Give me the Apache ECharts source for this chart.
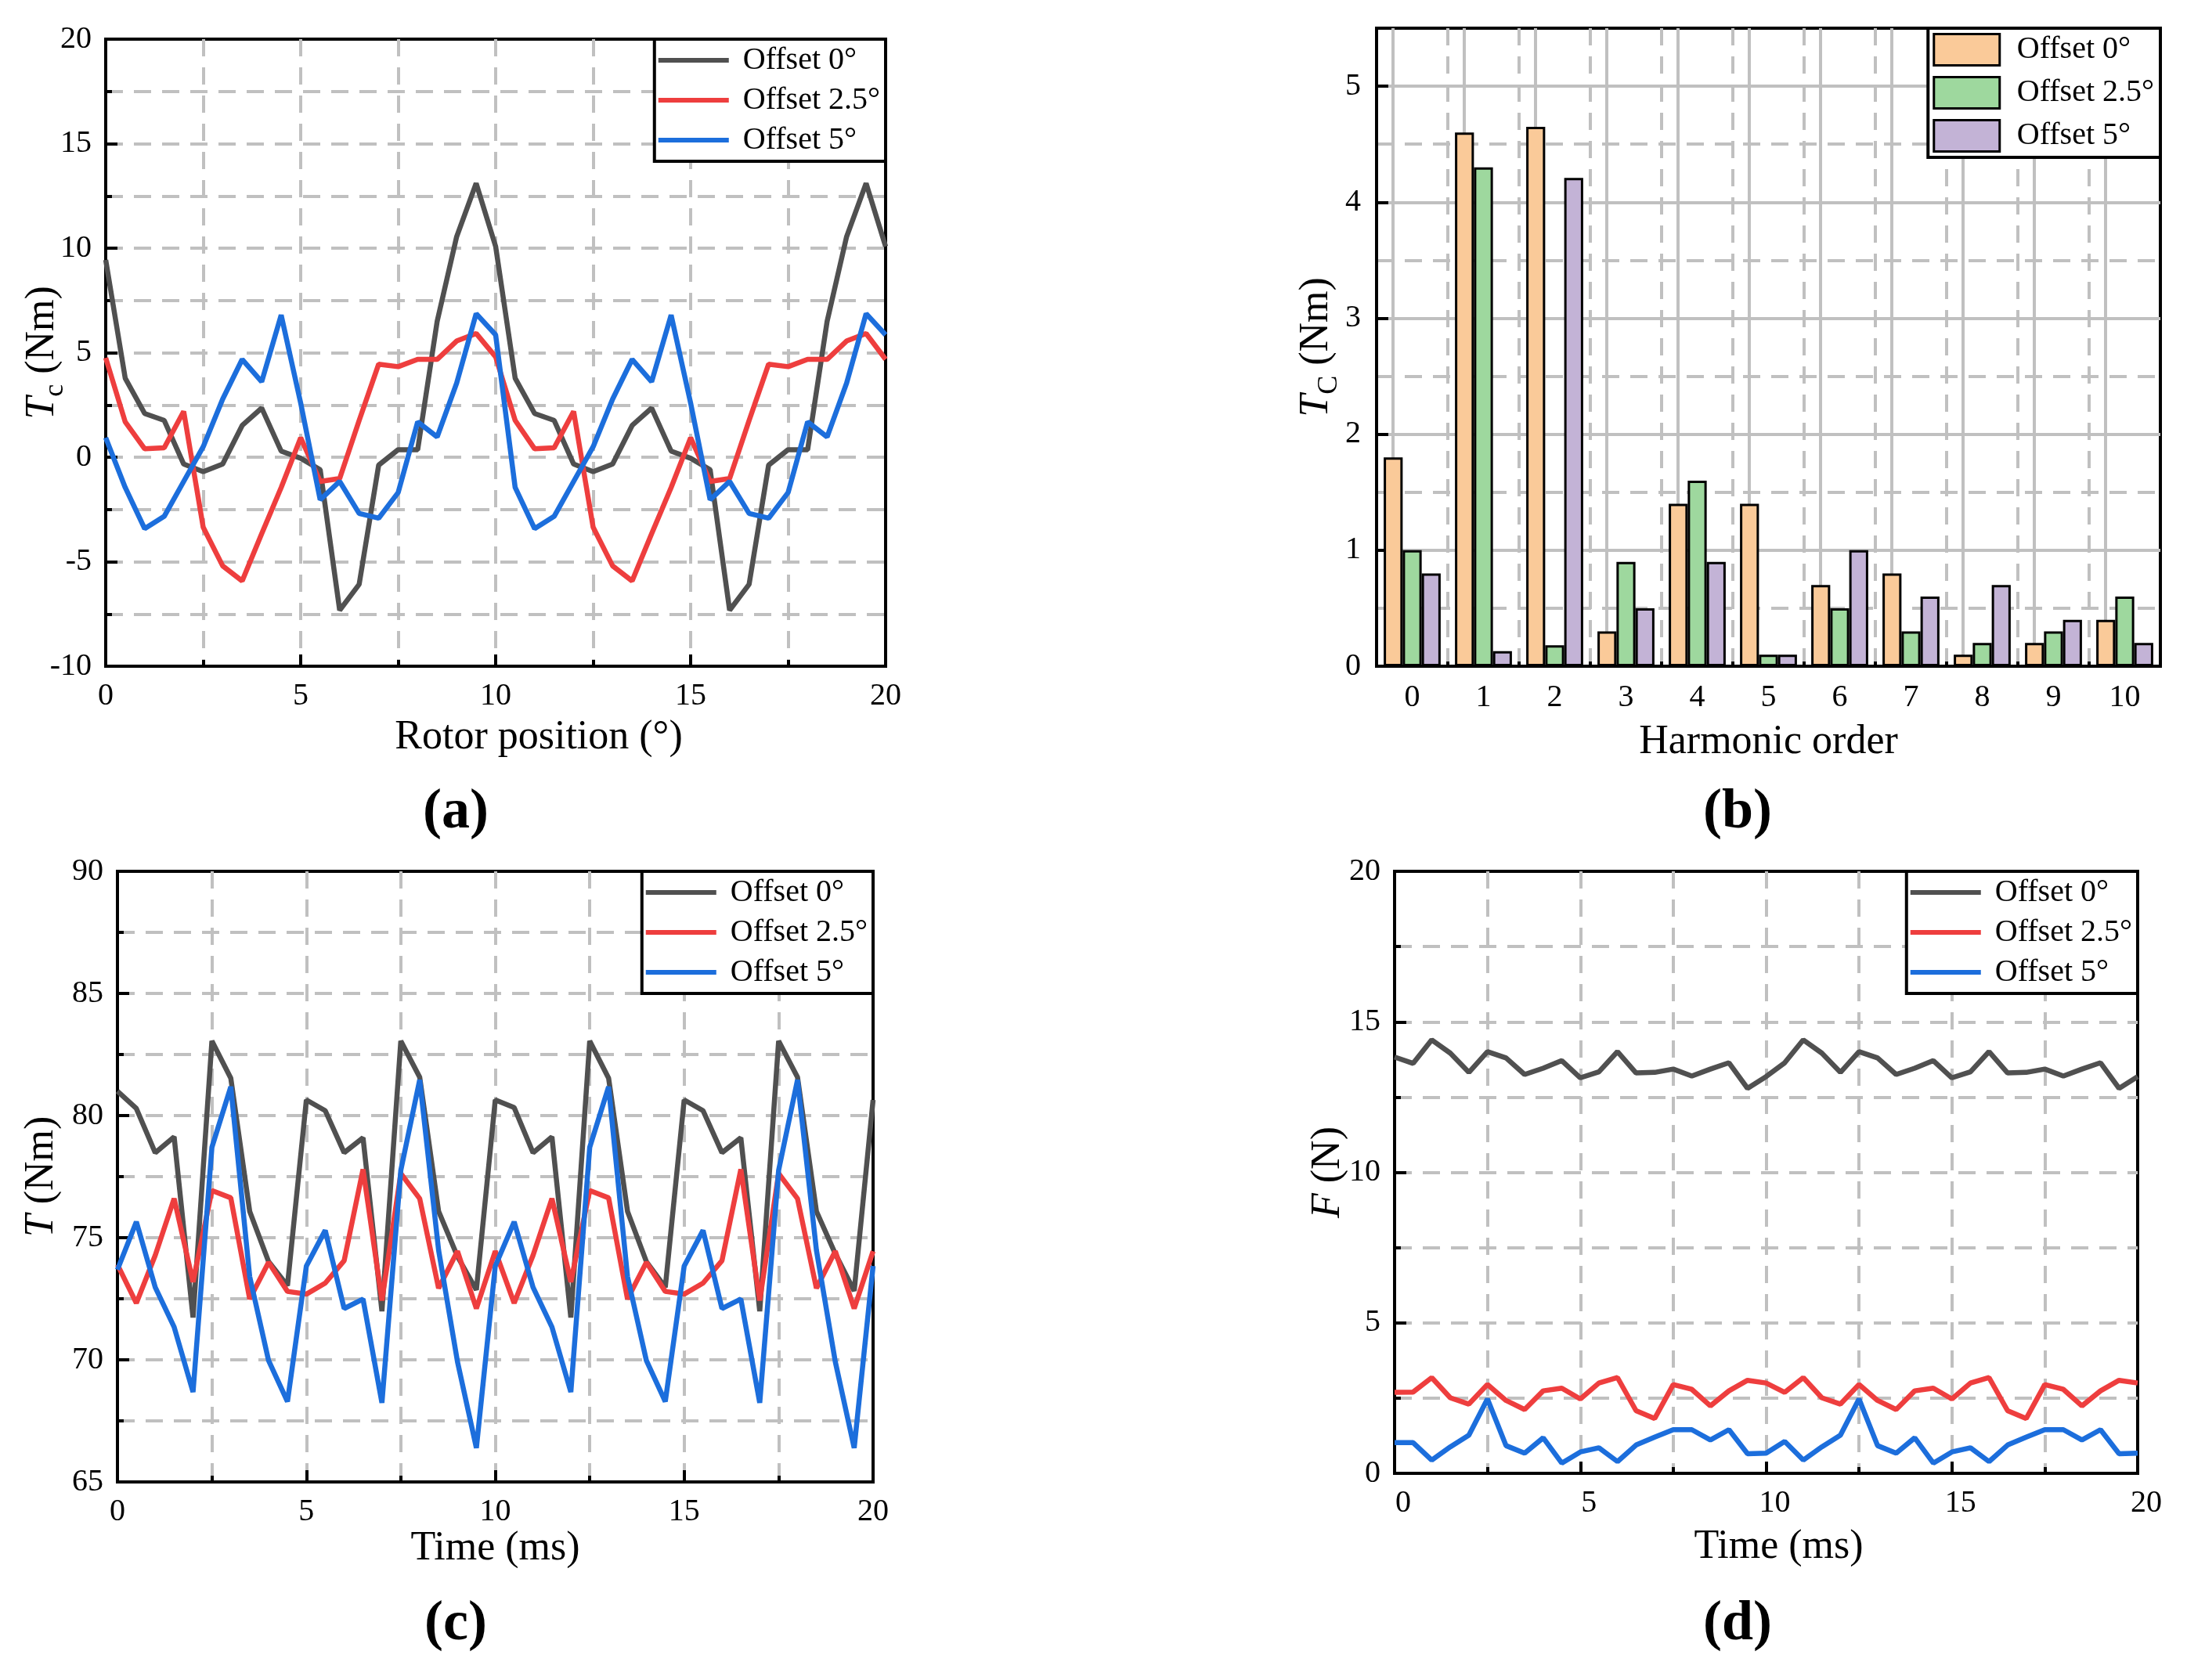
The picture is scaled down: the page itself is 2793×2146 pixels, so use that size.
<!DOCTYPE html>
<html>
<head>
<meta charset="utf-8">
<script src="https://cdn.jsdelivr.net/npm/echarts@6/dist/echarts.min.js"></script>
<style>
html,body{margin:0;padding:0;background:#fff;}
#chart{width:2793px;height:2146px;}
</style>
</head>
<body>
<div id="chart"></div>
<script>
// ---------- DATA ----------
const seriesNames = ['Offset 0°', 'Offset 2.5°', 'Offset 5°'];

// (a) cogging torque vs rotor position
const rotorPos = [0,0.5,1,1.5,2,2.5,3,3.5,4,4.5,5,5.5,6,6.5,7,7.5,8,8.5,9,9.5,10,
  10.5,11,11.5,12,12.5,13,13.5,14,14.5,15,15.5,16,16.5,17,17.5,18,18.5,19,19.5,20];
const tcOffset0 = [9.44,3.78,2.09,1.76,-0.33,-0.69,-0.33,1.52,2.35,0.29,-0.05,-0.6,-7.32,-6.08,-0.38,0.36,0.36,6.5,10.55,13.1,10.08,
  3.78,2.09,1.76,-0.33,-0.69,-0.33,1.52,2.35,0.29,-0.05,-0.6,-7.32,-6.08,-0.38,0.36,0.36,6.5,10.55,13.1,10.08];
const tcOffset25 = [4.75,1.69,0.4,0.45,2.19,-3.35,-5.2,-5.92,-3.66,-1.45,0.93,-1.16,-1.02,1.76,4.45,4.33,4.68,4.68,5.56,5.92,4.8,
  1.76,0.4,0.45,2.19,-3.35,-5.2,-5.92,-3.66,-1.45,0.93,-1.16,-1.02,1.76,4.45,4.33,4.68,4.68,5.56,5.92,4.68];
const tcOffset5 = [0.93,-1.45,-3.42,-2.83,-1.16,0.5,2.78,4.68,3.61,6.8,2.59,-2.04,-1.16,-2.69,-2.92,-1.69,1.69,0.97,3.54,6.87,5.85,
  -1.45,-3.42,-2.83,-1.16,0.5,2.78,4.68,3.61,6.8,2.59,-2.04,-1.16,-2.69,-2.92,-1.69,1.69,0.97,3.54,6.87,5.85];

// (b) harmonic spectrum
const harmonicOrders = ['0','1','2','3','4','5','6','7','8','9','10'];
const harmOffset0 = [1.8,4.6,4.65,0.3,1.4,1.4,0.7,0.8,0.1,0.2,0.4];
const harmOffset25 = [1.0,4.3,0.18,0.9,1.6,0.1,0.5,0.3,0.2,0.3,0.6];
const harmOffset5 = [0.8,0.13,4.21,0.5,0.9,0.1,1.0,0.6,0.7,0.4,0.2];

// (c) torque vs time, (d) force vs time
const timeMs = [0,0.5,1,1.5,2,2.5,3,3.5,4,4.5,5,5.5,6,6.5,7,7.5,8,8.5,9,9.5,10,
  10.5,11,11.5,12,12.5,13,13.5,14,14.5,15,15.5,16,16.5,17,17.5,18,18.5,19,19.5,20];
const tOffset0 = [81.0,80.29,78.48,79.13,71.73,83.05,81.53,76.08,74.02,73.04,80.64,80.2,78.48,79.09,71.99,83.05,81.57,76.08,74.23,72.86,80.64,
  80.33,78.48,79.13,71.73,83.05,81.53,76.08,74.02,72.97,80.64,80.2,78.48,79.09,71.99,83.05,81.57,76.08,74.34,72.82,80.64];
const tOffset25 = [73.9,72.32,74.28,76.6,73.19,76.93,76.63,72.49,73.99,72.8,72.69,73.14,74.06,77.8,72.43,77.63,76.6,72.93,74.45,72.1,74.45,
  72.32,74.28,76.6,73.19,76.93,76.63,72.49,73.99,72.8,72.69,73.14,74.06,77.8,72.43,77.63,76.6,72.93,74.45,72.1,74.45];
const tOffset5 = [73.69,75.65,72.97,71.34,68.68,78.7,81.18,73.41,69.97,68.29,73.84,75.3,72.1,72.49,68.24,77.76,81.46,74.49,69.92,66.39,73.84,
  75.65,72.97,71.34,68.68,78.7,81.18,73.41,69.97,68.29,73.84,75.3,72.1,72.49,68.24,77.76,81.46,74.49,69.92,66.39,73.84];
const fOffset0 = [13.83,13.62,14.4,13.96,13.32,14.01,13.8,13.25,13.46,13.71,13.14,13.34,14.01,13.3,13.32,13.43,13.2,13.43,13.64,12.79,13.18,
  13.64,14.4,13.96,13.32,14.01,13.8,13.25,13.46,13.71,13.14,13.34,14.01,13.3,13.32,13.43,13.2,13.43,13.64,12.79,13.18];
const fOffset25 = [2.69,2.7,3.18,2.51,2.3,2.95,2.42,2.12,2.74,2.83,2.47,3.0,3.18,2.08,1.82,2.95,2.79,2.24,2.74,3.09,3.0,
  2.69,3.18,2.51,2.3,2.95,2.42,2.12,2.74,2.83,2.47,3.0,3.18,2.08,1.82,2.95,2.79,2.24,2.74,3.09,3.0];
const fOffset5 = [1.02,1.02,0.44,0.88,1.27,2.47,0.92,0.67,1.18,0.34,0.71,0.85,0.39,0.94,1.2,1.45,1.45,1.11,1.45,0.65,0.67,
  1.06,0.44,0.88,1.27,2.47,0.92,0.67,1.18,0.34,0.71,0.85,0.39,0.94,1.2,1.45,1.45,1.11,1.45,0.65,0.67];

// ---------- STYLE ----------
const FONT = "'Liberation Serif','Times New Roman',serif";
const GRID_C = '#C0C0C0';
const DASH = [22, 14];
const lineColors = ['#505050', '#EE3E3E', '#1C6EDC'];
const barColors = ['#FACA99', '#9ED89E', '#C3B3D6'];

const chart = echarts.init(document.getElementById('chart'), null, {renderer: 'canvas'});

function zip(xs, ys) { return xs.map((x, i) => [x, ys[i]]); }

function valueAxis(opt) {
  return Object.assign({
    type: 'value',
    nameMoveOverlap: false,
    axisLine: {show: true, onZero: false, lineStyle: {color: '#000', width: 4}},
    axisTick: {show: true, inside: true, length: 15, lineStyle: {color: '#000', width: 4}},
    minorTick: {show: true, splitNumber: 2, length: 8, lineStyle: {color: '#000', width: 4}},
    axisLabel: {show: true, fontSize: 40, color: '#000', fontFamily: FONT, margin: 18},
    splitLine: {show: true, showMinLine: false, showMaxLine: false, lineStyle: {color: GRID_C, width: 4, type: DASH}},
    minorSplitLine: {show: true, lineStyle: {color: GRID_C, width: 4, type: DASH}},
    nameLocation: 'middle',
    nameTextStyle: {fontSize: 52, color: '#000', fontFamily: FONT}
  }, opt);
}

function titleStyle(subSize) {
  return {
    fontFamily: FONT, color: '#000',
    rich: {
      t: {fontSize: 52, fontStyle: 'italic', fontFamily: FONT, color: '#000', lineHeight: 70},
      s: {fontSize: subSize, fontFamily: FONT, color: '#000', lineHeight: subSize, verticalAlign: 'bottom'},
      n: {fontSize: 52, fontFamily: FONT, color: '#000', lineHeight: 70}
    }
  };
}

const grids = [
  {left: 135, top: 50, width: 996, height: 801},
  {left: 1758, top: 36, width: 1001, height: 815},
  {left: 150, top: 1113, width: 965, height: 780},
  {left: 1781, top: 1113, width: 949, height: 769}
].map(g => Object.assign({show: true, borderColor: '#000', borderWidth: 4, backgroundColor: 'transparent'}, g));

const xAxes = [
  valueAxis({gridIndex: 0, min: 0, max: 20, interval: 5, name: 'Rotor position (°)', nameGap: 65,
    nameTextStyle: {fontSize: 52, color: '#000', fontFamily: FONT, padding: [0, 0, 0, 110]}}),
  {type: 'category', gridIndex: 1, data: harmonicOrders, boundaryGap: true, nameMoveOverlap: false,
    axisLine: {show: true, onZero: false, lineStyle: {color: '#000', width: 4}},
    axisTick: {show: true, inside: true, length: 6, interval: 0, lineStyle: {color: '#000', width: 4}},
    axisLabel: {show: true, interval: 0, fontSize: 40, color: '#000', fontFamily: FONT, margin: 20},
    splitLine: {show: true, interval: 0, showMinLine: false, showMaxLine: false, lineStyle: {color: GRID_C, width: 4, type: DASH}},
    name: 'Harmonic order', nameLocation: 'middle', nameGap: 71,
    nameTextStyle: {fontSize: 52, color: '#000', fontFamily: FONT}},
  valueAxis({gridIndex: 2, min: 0, max: 20, interval: 5, name: 'Time (ms)', nameGap: 59}),
  valueAxis({gridIndex: 3, min: 0, max: 20, interval: 5, name: 'Time (ms)', nameGap: 68,
    axisLabel: {show: true, fontSize: 40, color: '#000', fontFamily: FONT, margin: 18, padding: [0, 0, 0, 22]},
    nameTextStyle: {fontSize: 52, color: '#000', fontFamily: FONT, padding: [0, 0, 0, 32]}})
];

const yAxes = [
  valueAxis({gridIndex: 0, min: -10, max: 20, interval: 5, name: '{t|T}{s|c}{n| (Nm)}', nameGap: 46,
    nameTextStyle: titleStyle(36)}),
  {type: 'value', gridIndex: 1, min: 0, max: 5.5, interval: 1, nameMoveOverlap: false,
    axisLine: {show: true, onZero: false, lineStyle: {color: '#000', width: 4}},
    axisTick: {show: true, inside: true, length: 15, lineStyle: {color: '#000', width: 4}},
    axisLabel: {show: true, showMaxLabel: false, fontSize: 40, color: '#000', fontFamily: FONT, margin: 20},
    splitLine: {show: true, showMinLine: false, showMaxLine: false, lineStyle: {color: GRID_C, width: 4, type: 'solid'}},
    name: '{t|T}{s|C}{n| (Nm)}', nameLocation: 'middle', nameGap: 42,
    nameTextStyle: titleStyle(36)},
  {type: 'value', gridIndex: 1, min: 0, max: 5.5, interval: 0.5,
    axisLine: {show: false}, axisLabel: {show: false},
    axisTick: {show: false},
    splitLine: {show: true, showMinLine: false, showMaxLine: false, lineStyle: {color: GRID_C, width: 4, type: DASH}}},
  valueAxis({gridIndex: 2, min: 65, max: 90, interval: 5, name: '{t|T}{n| (Nm)}', nameGap: 62,
    nameTextStyle: titleStyle(36)}),
  valueAxis({gridIndex: 3, min: 0, max: 20, interval: 5, name: '{t|F}{n| (N)}', nameGap: 50,
    nameTextStyle: titleStyle(36)})
];

function lineSeries(prefix, idx, xIdx, yIdx, xs, ys) {
  return {
    name: prefix + seriesNames[idx], type: 'line', xAxisIndex: xIdx, yAxisIndex: yIdx,
    data: zip(xs, ys), symbol: 'none', showSymbol: false, animation: false,
    lineStyle: {color: lineColors[idx], width: 6.5}, itemStyle: {color: lineColors[idx]},
    z: 3 + idx
  };
}
function barSeries(idx, vals) {
  const s = {
    name: 'b|' + seriesNames[idx], type: 'bar', xAxisIndex: 1, yAxisIndex: 1, data: vals,
    barGap: '0%', barCategoryGap: '20%', animation: false,
    itemStyle: {color: barColors[idx], borderColor: '#000', borderWidth: 3}, z: 3
  };
  if (idx === 0) {
    // solid vertical grid lines at each harmonic order, drawn behind the bars
    s.markLine = {
      silent: true, z: 1, symbol: ['none', 'none'], label: {show: false}, animation: false,
      lineStyle: {color: GRID_C, width: 4, type: 'solid'},
      emphasis: {disabled: true},
      data: harmonicOrders.map(c => ({xAxis: c}))
    };
  }
  return s;
}

const series = [
  lineSeries('a|', 0, 0, 0, rotorPos, tcOffset0),
  lineSeries('a|', 1, 0, 0, rotorPos, tcOffset25),
  lineSeries('a|', 2, 0, 0, rotorPos, tcOffset5),
  barSeries(0, harmOffset0),
  barSeries(1, harmOffset25),
  barSeries(2, harmOffset5),
  lineSeries('c|', 0, 2, 3, timeMs, tOffset0),
  lineSeries('c|', 1, 2, 3, timeMs, tOffset25),
  lineSeries('c|', 2, 2, 3, timeMs, tOffset5),
  lineSeries('d|', 0, 3, 4, timeMs, fOffset0),
  lineSeries('d|', 1, 3, 4, timeMs, fOffset25),
  lineSeries('d|', 2, 3, 4, timeMs, fOffset5)
];

function legendFor(prefix, pos, isBar) {
  const lg = Object.assign({
    orient: 'vertical', selectedMode: false,
    data: seriesNames.map(n => prefix + n),
    formatter: name => name.slice(2),
    icon: 'rect',
    itemWidth: isBar ? 84 : 90, itemHeight: isBar ? 40 : 6, itemGap: isBar ? 12 : 11,
    padding: isBar ? [6, 8, 6, 6] : [7, 7, 7, 5],
    borderColor: '#000', borderWidth: 4, backgroundColor: '#fff',
    textStyle: {fontSize: 40, lineHeight: 40, color: '#000', fontFamily: FONT, padding: [0, 0, 0, isBar ? 17 : 13]},
    z: 10
  }, pos);
  if (isBar) {
    lg.itemStyle = {borderColor: '#000', borderWidth: 3};
  } else {
    lg.itemStyle = {borderWidth: 0};
  }
  return lg;
}

const legends = [
  legendFor('a|', {right: 2793 - 1131, top: 50}, false),
  legendFor('b|', {right: 2793 - 2759, top: 36}, true),
  legendFor('c|', {right: 2793 - 1115, top: 1113}, false),
  legendFor('d|', {right: 2793 - 2730, top: 1113}, false)
];

const panelLetters = ['(a)', '(b)', '(c)', '(d)'];
const letterPos = [[582, 1038], [2219, 1038], [582, 2075], [2219, 2075]];
const graphics = panelLetters.map((t, i) => ({
  type: 'text', x: letterPos[i][0], y: letterPos[i][1],
  style: {text: t, fill: '#000', font: "bold 72px " + FONT, textAlign: 'center', textVerticalAlign: 'middle'}
}));

chart.setOption({
  backgroundColor: '#fff',
  animation: false,
  grid: grids,
  xAxis: xAxes,
  yAxis: yAxes,
  legend: legends,
  graphic: graphics,
  series: series
});
</script>
</body>
</html>
